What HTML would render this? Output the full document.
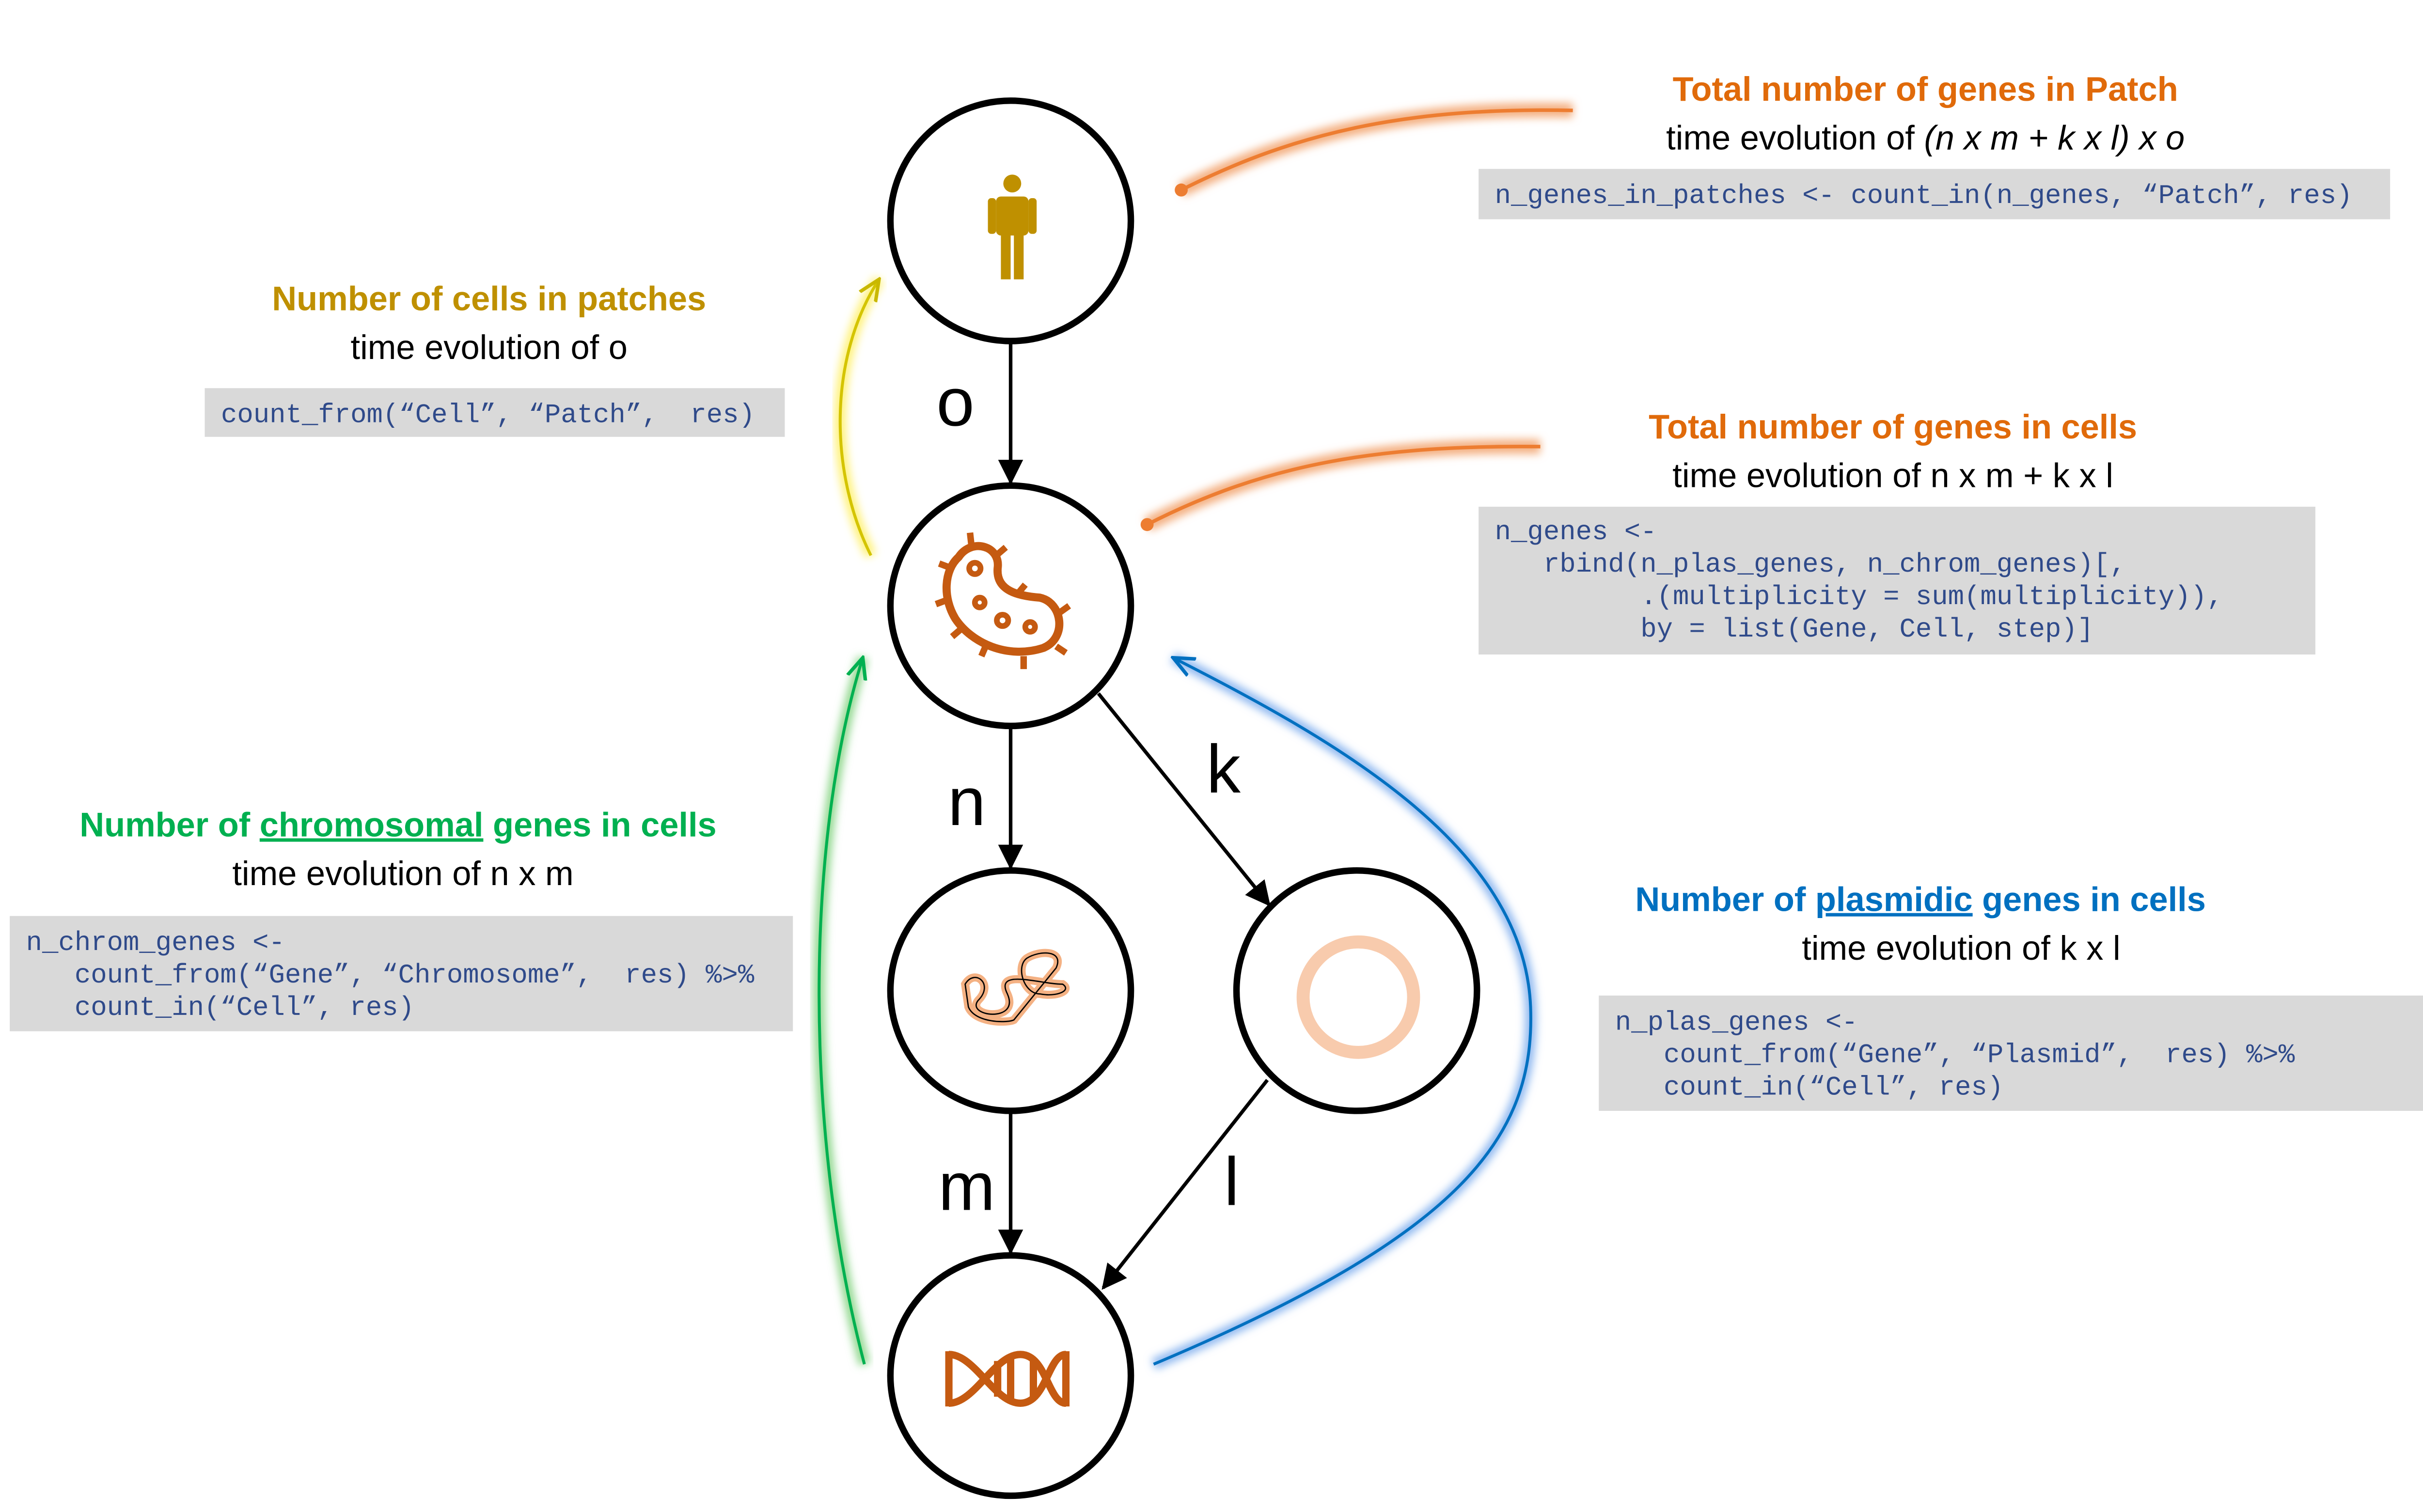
<!DOCTYPE html>
<html><head><meta charset="utf-8"><style>
html,body{margin:0;padding:0;background:#fff}
svg{display:block}
.t{font-family:"Liberation Sans","DejaVu Sans",sans-serif;font-size:21px;text-anchor:middle}
.h{font-weight:bold}
.c{font-family:"Liberation Mono","DejaVu Sans Mono",monospace;font-size:16.6px;fill:#2F4A8A;white-space:pre}
.lbl{font-family:"Liberation Sans",sans-serif;font-size:42px;fill:#000;text-anchor:middle}
</style></head><body>
<svg width="5197" height="3121" viewBox="0 0 1550 931" preserveAspectRatio="none" xmlns="http://www.w3.org/2000/svg">
<defs>
<marker id="ah" viewBox="0 0 10 10" refX="9" refY="5" markerWidth="7" markerHeight="7" orient="auto"><path d="M0,0 L10,5 L0,10 z" fill="#000"/></marker>
<marker id="ay" viewBox="0 0 10 10" refX="9" refY="5" markerWidth="8" markerHeight="8" orient="auto"><path d="M0,1 L9,5 L0,9" fill="none" stroke="#C9B800" stroke-width="1.5"/></marker>
<marker id="ag" viewBox="0 0 10 10" refX="9" refY="5" markerWidth="8" markerHeight="8" orient="auto"><path d="M0,1 L9,5 L0,9" fill="none" stroke="#00B050" stroke-width="1.5"/></marker>
<marker id="ab" viewBox="0 0 10 10" refX="9" refY="5" markerWidth="8" markerHeight="8" orient="auto"><path d="M0,1 L9,5 L0,9" fill="none" stroke="#0070C0" stroke-width="1.5"/></marker>
<filter id="glow" x="-20%" y="-20%" width="140%" height="140%"><feGaussianBlur stdDeviation="2.5"/></filter>
</defs>

<g>
<path d="M727,117 C800,80 870,66 968,68" fill="none" stroke="#F4B183" stroke-width="9" filter="url(#glow)"/>
<path d="M727,117 C800,80 870,66 968,68" fill="none" stroke="#ED7D31" stroke-width="2.2"/>
<circle cx="727" cy="117" r="4" fill="#ED7D31"/></g>
<g>
<path d="M706,323 C780,285 850,274 948,275" fill="none" stroke="#F4B183" stroke-width="9" filter="url(#glow)"/>
<path d="M706,323 C780,285 850,274 948,275" fill="none" stroke="#ED7D31" stroke-width="2.2"/>
<circle cx="706" cy="323" r="4" fill="#ED7D31"/></g>
<g>
<path d="M536,342 C510,290 510,220 541,172" fill="none" stroke="#FFF27A" stroke-width="7" filter="url(#glow)"/>
<path d="M536,342 C510,290 510,220 541,172" fill="none" stroke="#D4C400" stroke-width="1.8" marker-end="url(#ay)"/></g>
<g>
<path d="M532,840 C495,700 495,520 531,405" fill="none" stroke="#92D88F" stroke-width="7" filter="url(#glow)"/>
<path d="M532,840 C495,700 495,520 531,405" fill="none" stroke="#00B050" stroke-width="1.8" marker-end="url(#ag)"/></g>
<g>
<path d="M710,840 C900,760 945,700 942,620 C938,520 820,455 722,405" fill="none" stroke="#8FB8F0" stroke-width="7" filter="url(#glow)"/>
<path d="M710,840 C900,760 945,700 942,620 C938,520 820,455 722,405" fill="none" stroke="#0070C0" stroke-width="1.8" marker-end="url(#ab)"/></g>

<g stroke="#000" stroke-width="2.2" fill="none">
<line x1="622" y1="211" x2="622" y2="297" marker-end="url(#ah)"/>
<line x1="622" y1="448" x2="622" y2="534" marker-end="url(#ah)"/>
<line x1="676" y1="427" x2="781" y2="557" marker-end="url(#ah)"/>
<line x1="622" y1="685" x2="622" y2="771" marker-end="url(#ah)"/>
<line x1="780" y1="665" x2="679" y2="793" marker-end="url(#ah)"/>
</g>
<text class="lbl" x="588" y="262">o</text>
<text class="lbl" x="595" y="508">n</text>
<text class="lbl" x="753" y="488">k</text>
<text class="lbl" x="595" y="745">m</text>
<text class="lbl" x="758" y="742">l</text>

<g fill="#fff" stroke="#000" stroke-width="4">
<circle cx="622" cy="136" r="74"/>
<circle cx="622" cy="373" r="74"/>
<circle cx="622" cy="610" r="74"/>
<circle cx="835" cy="610" r="74"/>
<circle cx="622" cy="847" r="74"/>
</g>

<g fill="#BF9000">
<circle cx="623" cy="113" r="5.5"/>
<rect x="613" y="121" width="20" height="24" rx="3"/>
<rect x="608" y="122" width="5" height="22" rx="2"/><rect x="633" y="122" width="5" height="22" rx="2"/>
<rect x="616" y="140" width="6" height="32"/><rect x="624" y="140" width="6" height="32"/>
</g>
<g stroke="#C55A11" fill="none" stroke-width="5">
<path d="M590,343 C598,331 616,336 614,350 C613,364 627,367 640,368 C654,371 657,393 642,399 C620,406 598,396 588,381 C580,368 581,351 590,343 Z"/>
<g stroke-width="4"><line x1="598" y1="337" x2="597" y2="328"/><line x1="612" y1="343" x2="619" y2="337"/><line x1="586" y1="350" x2="578" y2="347"/><line x1="584" y1="369" x2="576" y2="372"/><line x1="593" y1="386" x2="586" y2="392"/><line x1="607" y1="397" x2="604" y2="404"/><line x1="630" y1="404" x2="630" y2="412"/><line x1="650" y1="398" x2="656" y2="402"/><line x1="651" y1="378" x2="658" y2="373"/><line x1="626" y1="366" x2="631" y2="360"/></g>
<g stroke-width="3.5"><circle cx="600" cy="350" r="3.5"/><circle cx="603" cy="371" r="3"/><circle cx="617" cy="382" r="3.5"/><circle cx="634" cy="386" r="3"/></g>
</g>
<g fill="none">
<path d="M594,606 C600,596 612,606 602,616 C594,626 628,630 620,612 C612,596 640,606 654,606 C660,610 650,614 640,612 C630,612 625,595 632,590 C640,585 655,585 650,596 L624,628 C620,630 600,630 596,620 Z" stroke="#F4B183" stroke-width="5"/>
<path d="M594,606 C600,596 612,606 602,616 C594,626 628,630 620,612 C612,596 640,606 654,606 C660,610 650,614 640,612 C630,612 625,595 632,590 C640,585 655,585 650,596 L624,628 C620,630 600,630 596,620 Z" stroke="#000" stroke-width="0.8"/>
</g>
<circle cx="836" cy="614" r="34" fill="none" stroke="#F8CBAD" stroke-width="8"/>
<g stroke="#C55A11" fill="none" stroke-width="4.5">
<path d="M584,834 C600,834 612,864 628,864 C644,864 645,834 656,834"/>
<path d="M584,864 C600,864 612,834 628,834 C644,834 645,864 656,864"/>
<line x1="584" y1="832" x2="584" y2="866"/><line x1="656" y1="832" x2="656" y2="866"/>
<line x1="614" y1="838" x2="614" y2="860"/><line x1="622" y1="836" x2="622" y2="862"/><line x1="636" y1="838" x2="636" y2="860"/>
</g>

<g>
<text class="t h" x="1185" y="62" fill="#E06A0A">Total number of genes in Patch</text>
<text class="t" x="1185" y="92" fill="#000">time evolution of <tspan font-style="italic">(n x m + k x l) x o</tspan></text>
<rect x="910" y="104" width="561" height="31" fill="#D9D9D9"/>
<text class="c" x="920" y="125">n_genes_in_patches &lt;- count_in(n_genes, “Patch”, res)</text>
</g>
<g>
<text class="t h" x="301" y="191" fill="#BF9000">Number of cells in patches</text>
<text class="t" x="301" y="221" fill="#000">time evolution of o</text>
<rect x="126" y="239" width="357" height="30" fill="#D9D9D9"/>
<text class="c" x="136" y="260">count_from(“Cell”, “Patch”,  res)</text>
</g>
<g>
<text class="t h" x="1165" y="270" fill="#E06A0A">Total number of genes in cells</text>
<text class="t" x="1165" y="300" fill="#000">time evolution of n x m + k x l</text>
<rect x="910" y="312" width="515" height="91" fill="#D9D9D9"/>
<text class="c" x="920" y="332">n_genes &lt;-</text>
<text class="c" x="920" y="352">   rbind(n_plas_genes, n_chrom_genes)[,</text>
<text class="c" x="920" y="372">         .(multiplicity = sum(multiplicity)),</text>
<text class="c" x="920" y="392">         by = list(Gene, Cell, step)]</text>
</g>
<g>
<text class="t h" x="245" y="515" fill="#00B050">Number of <tspan text-decoration="underline">chromosomal</tspan> genes in cells</text>
<text class="t" x="248" y="545" fill="#000">time evolution of n x m</text>
<rect x="6" y="564" width="482" height="71" fill="#D9D9D9"/>
<text class="c" x="16" y="585">n_chrom_genes &lt;-</text>
<text class="c" x="16" y="605">   count_from(“Gene”, “Chromosome”,  res) %&gt;%</text>
<text class="c" x="16" y="625">   count_in(“Cell”, res)</text>
</g>
<g>
<text class="t h" x="1182" y="561" fill="#0070C0">Number of <tspan text-decoration="underline">plasmidic</tspan> genes in cells</text>
<text class="t" x="1207" y="591" fill="#000">time evolution of k x l</text>
<rect x="984" y="613" width="545" height="71" fill="#D9D9D9"/>
<text class="c" x="994" y="634">n_plas_genes &lt;-</text>
<text class="c" x="994" y="654">   count_from(“Gene”, “Plasmid”,  res) %&gt;%</text>
<text class="c" x="994" y="674">   count_in(“Cell”, res)</text>
</g>
</svg>
</body></html>
